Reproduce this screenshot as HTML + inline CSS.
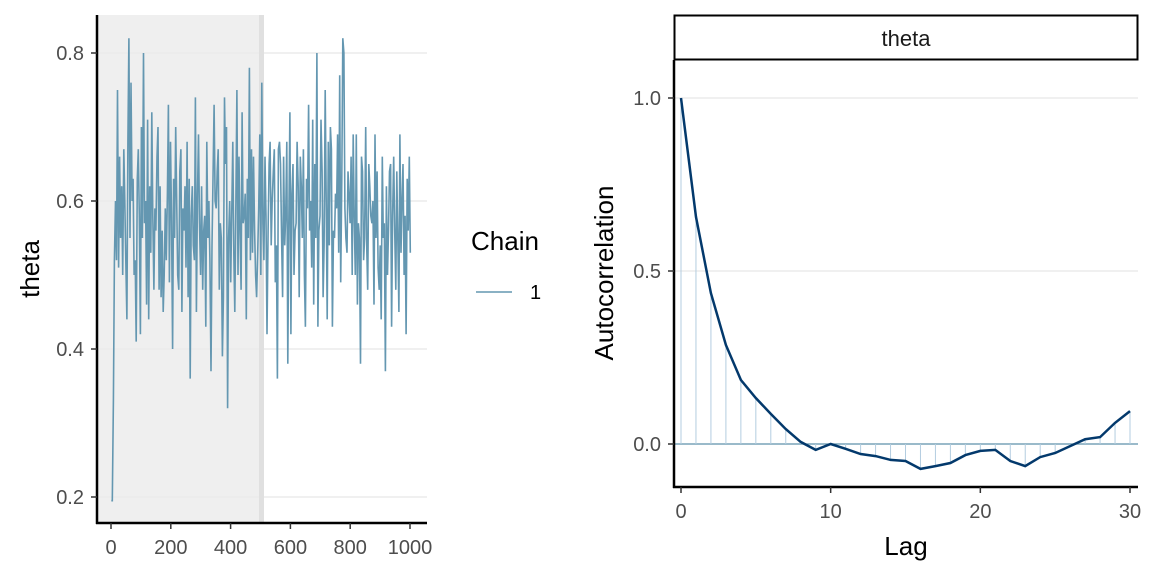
<!DOCTYPE html>
<html><head><meta charset="utf-8">
<style>
body{margin:0;background:#fff;}
svg{display:block;font-family:"Liberation Sans",sans-serif;}
</style></head>
<body>
<svg id="c" width="1152" height="576" viewBox="0 0 1152 576"></svg>
<script>
// ---------- data ----------
const traceVals = [19.5,19.5,33,52,60,52,75,51,66,55,62,50,67,60,52,44,68,82,55,76,60,63,50,52,41,63,67,58,42,70,55,80,57,60,46,71,44,62,53,72,58,48,59,56,66,70,48,62,47,56,45,50,59,52,61,73,49,68,58,40,63,55,70,60,50,48,64,67,45,59,56,62,51,68,47,63,36,58,62,54,52,74,45,61,69,57,50,62,48,56,58,43,68,55,60,52,37,54,63,73,60,59,64,67,48,57,55,39,47,74,65,70,32,55,60,49,58,68,53,45,60,75,50,66,56,48,72,57,58,61,44,63,55,78,52,67,53,66,56,50,47,53,59,69,50,76,57,52,66,58,42,56,65,68,54,60,64,67,49,54,36,67,68,65,55,47,66,54,58,68,38,57,72,42,61,65,50,56,57,68,62,47,66,62,55,67,50,43,63,59,73,56,60,51,71,46,65,55,80,43,56,58,71,64,47,54,75,60,44,68,54,70,67,43,56,55,61,59,69,53,77,49,63,82,80,59,55,53,64,61,57,66,50,69,58,50,69,46,57,55,38,66,64,52,55,70,54,48,65,62,58,57,60,46,69,55,64,51,48,54,44,66,55,57,37,62,50,56,64,65,43,58,66,56,48,64,55,45,69,53,60,65,50,58,42,63,56,66,53];
const acfLags = [0,1,2,3,4,5,6,7,8,9,10,11,12,13,14,15,16,17,18,19,20,21,22,23,24,25,26,27,28,29,30];
const acfVals = [1.0,0.656,0.436,0.286,0.185,0.133,0.087,0.043,0.006,-0.017,0.0,-0.014,-0.029,-0.035,-0.046,-0.049,-0.072,-0.064,-0.055,-0.032,-0.02,-0.017,-0.049,-0.064,-0.038,-0.026,-0.006,0.014,0.02,0.061,0.095];
const leftYTicks = [0.2,0.4,0.6,0.8];
const leftXTicks = [0,200,400,600,800,1000];
const rightYTicks = [0.0,0.5,1.0];
const rightXTicks = [0,10,20,30];
const warmup = 500;
const nIter = 1000;

// ---------- helpers ----------
const NS="http://www.w3.org/2000/svg";
const svg=document.getElementById('c');
function mk(tag,attrs,parent){const e=document.createElementNS(NS,tag);for(const k in attrs)e.setAttribute(k,attrs[k]);(parent||svg).appendChild(e);return e;}
const lx=v=>111+v*(410-111)/1000;
const ly=v=>497-(v-0.2)*(497-53)/0.6;
const rx=v=>681+v*(1130-681)/30;
const ry=v=>444-v*(444-98);

// ---------- left panel ----------
let e;
e=mk('rect',{x:97,y:15,width:lx(warmup)+3-97,height:508,fill:'#efefef'});


leftYTicks.forEach(t=>{
  e=mk('line',{x1:97,x2:427,y1:ly(t),y2:ly(t),stroke:'#ebebeb','stroke-width':1.5});
  
  
});
e=mk('line',{x1:lx(warmup)+1,x2:lx(warmup)+1,y1:15,y2:523,stroke:'#e0e0e0','stroke-width':5});


const step=(nIter)/(traceVals.length-1);
let d=traceVals.map((v,i)=>(i?'L':'M')+(lx(i*step+1)).toFixed(1)+','+ly(v/100).toFixed(1)).join('');
e=mk('path',{d:d,fill:'none',stroke:'#6497b1','stroke-width':1.6});


e=mk('line',{x1:97,x2:97,y1:15,y2:524,stroke:'#000','stroke-width':2.5});


e=mk('line',{x1:96,x2:427,y1:523,y2:523,stroke:'#000','stroke-width':2.5});


leftYTicks.forEach(t=>{
  e=mk('line',{x1:91,x2:97,y1:ly(t),y2:ly(t),stroke:'#333','stroke-width':1.5});
  
  
  e=mk('text',{x:84,y:ly(t)+7,'text-anchor':'end','font-size':20,fill:'#4d4d4d'});e.textContent=t.toFixed(1);
  
  
});
leftXTicks.forEach(t=>{
  e=mk('line',{x1:lx(t),x2:lx(t),y1:523,y2:529,stroke:'#333','stroke-width':1.5});
  
  
  e=mk('text',{x:lx(t),y:554,'text-anchor':'middle','font-size':20,fill:'#4d4d4d'});e.textContent=t;
  
  
});
e=mk('text',{x:0,y:0,'text-anchor':'middle','font-size':26,fill:'#000',transform:'translate(39,269) rotate(-90)'});e.textContent='theta';


// legend
e=mk('text',{x:471,y:250,'font-size':26,fill:'#000'});e.textContent='Chain';


e=mk('line',{x1:476,x2:512,y1:292,y2:292,stroke:'#6497b1','stroke-width':1.5});


e=mk('text',{x:530,y:299,'font-size':20,fill:'#000'});e.textContent='1';



// ---------- right panel ----------
e=mk('rect',{x:674.5,y:15.5,width:463,height:44,fill:'#fff',stroke:'#000','stroke-width':2});


e=mk('text',{x:906,y:46,'text-anchor':'middle','font-size':22,fill:'#1a1a1a'});e.textContent='theta';


rightYTicks.forEach(t=>{
  e=mk('line',{x1:674,x2:1138,y1:ry(t),y2:ry(t),stroke:'#ebebeb','stroke-width':1.5});
  
  
});
e=mk('line',{x1:674,x2:1138,y1:ry(0),y2:ry(0),stroke:'#6497b1','stroke-width':1.2});


acfLags.forEach((l,i)=>{
  e=mk('line',{x1:rx(l),x2:rx(l),y1:ry(0),y2:ry(acfVals[i]),stroke:'#b3cde0','stroke-width':1});
  
  
});
d=acfLags.map((l,i)=>(i?'L':'M')+rx(l).toFixed(1)+','+ry(acfVals[i]).toFixed(1)).join('');
e=mk('path',{d:d,fill:'none',stroke:'#03396c','stroke-width':2.5});


e=mk('line',{x1:674,x2:674,y1:60,y2:488,stroke:'#000','stroke-width':2.5});


e=mk('line',{x1:673,x2:1138,y1:487,y2:487,stroke:'#000','stroke-width':2.5});


rightYTicks.forEach(t=>{
  e=mk('line',{x1:668,x2:674,y1:ry(t),y2:ry(t),stroke:'#333','stroke-width':1.5});
  
  
  e=mk('text',{x:661,y:ry(t)+7,'text-anchor':'end','font-size':20,fill:'#4d4d4d'});e.textContent=t.toFixed(1);
  
  
});
rightXTicks.forEach(t=>{
  e=mk('line',{x1:rx(t),x2:rx(t),y1:487,y2:493,stroke:'#333','stroke-width':1.5});
  
  
  e=mk('text',{x:rx(t),y:518,'text-anchor':'middle','font-size':20,fill:'#4d4d4d'});e.textContent=t;
  
  
});
e=mk('text',{x:906,y:555,'text-anchor':'middle','font-size':26,fill:'#000'});e.textContent='Lag';


e=mk('text',{x:0,y:0,'text-anchor':'middle','font-size':26,fill:'#000',transform:'translate(613,273) rotate(-90)'});e.textContent='Autocorrelation';


</script>
</body></html>
